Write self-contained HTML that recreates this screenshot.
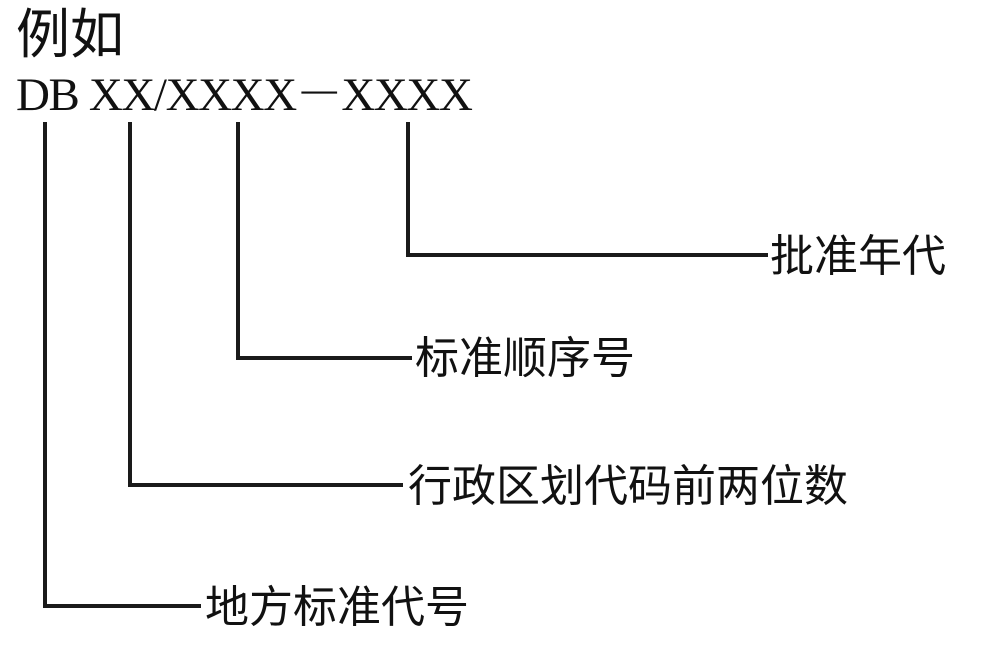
<!DOCTYPE html>
<html><head><meta charset="utf-8"><style>
html,body{margin:0;padding:0;background:#fff;width:990px;height:656px;overflow:hidden;position:relative}
.t{position:absolute;white-space:nowrap;color:#111;font-family:"Liberation Sans","Noto Sans CJK SC",sans-serif;line-height:1}
.s{font-family:"Liberation Serif","Noto Serif CJK SC",serif}
.l{position:absolute;background:#1a1a1a}
</style></head><body>
<div class="t" style="left:16px;top:8px;font-size:54px">例如</div>
<div class="t s" style="left:16px;top:72px;font-size:47px;letter-spacing:-1.4px">DB XX/XXXX－XXXX</div>

<div class="l" style="left:43px;top:122px;width:4px;height:486px"></div>
<div class="l" style="left:43px;top:604px;width:158px;height:4px"></div>
<div class="t" style="left:205px;top:586px;font-size:44px">地方标准代号</div>

<div class="l" style="left:128px;top:122px;width:4px;height:365px"></div>
<div class="l" style="left:128px;top:483px;width:275px;height:4px"></div>
<div class="t" style="left:408px;top:465px;font-size:44px">行政区划代码前两位数</div>

<div class="l" style="left:236px;top:122px;width:4px;height:238px"></div>
<div class="l" style="left:236px;top:356px;width:176px;height:4px"></div>
<div class="t" style="left:415px;top:337px;font-size:44px">标准顺序号</div>

<div class="l" style="left:406px;top:122px;width:4px;height:135px"></div>
<div class="l" style="left:406px;top:253px;width:362px;height:4px"></div>
<div class="t" style="left:770px;top:235px;font-size:44px">批准年代</div>
</body></html>
